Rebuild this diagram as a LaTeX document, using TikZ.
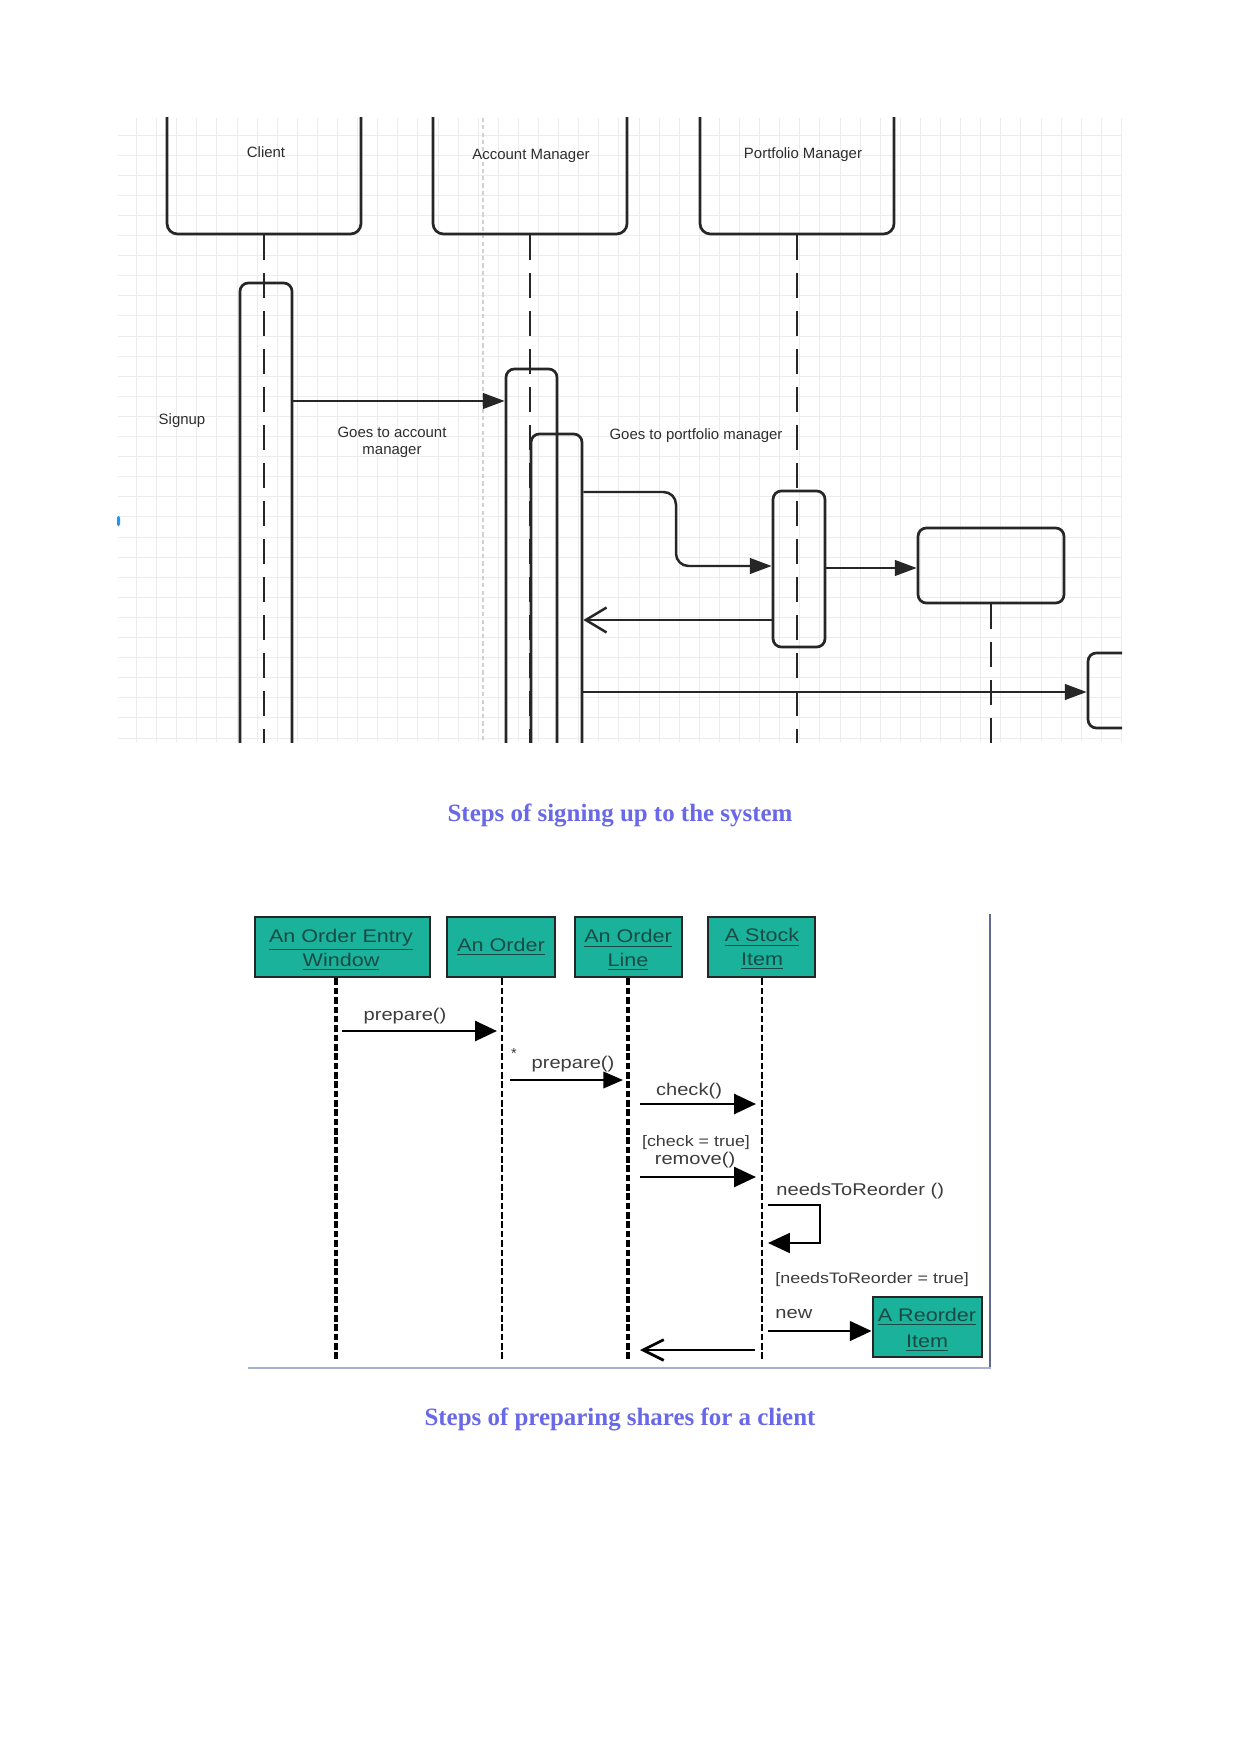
\documentclass[tikz,border=0pt]{standalone}
\usepackage{fontspec}
\setmainfont{Liberation Serif}
\newfontfamily\arialf{Liberation Sans}
\newfontfamily\arialw[FakeStretch=1.18]{Liberation Sans}
\usetikzlibrary{arrows.meta,fit}
\definecolor{captc}{RGB}{104,104,232}
\definecolor{gridc}{RGB}{236,236,236}
\definecolor{txtc}{RGB}{45,45,45}
\definecolor{txtb}{RGB}{60,60,60}
\definecolor{tealc}{RGB}{26,178,154}
\definecolor{tealtxt}{RGB}{25,75,70}
\definecolor{framer}{RGB}{95,105,145}
\definecolor{frameb}{RGB}{165,175,210}
\definecolor{markc}{RGB}{30,150,240}
\begin{document}
\begin{tikzpicture}[x=0.016922cm,y=-0.016922cm,
  hdr/.style={draw=black!85,line width=1.3pt,rounded corners=5pt,inner sep=0pt},
  actbox/.style={draw=black!85,line width=1.3pt,rounded corners=4pt,inner sep=0pt},
  lifeA/.style={draw=black!85,line width=1.2pt,dash pattern=on 12pt off 6.3pt},
  msgA/.style={draw=black!85,line width=1.2pt,-{Triangle[length=10.5pt,width=7.5pt]}},
  retA/.style={draw=black!85,line width=1.2pt,-{Straight Barb[length=10pt,width=12pt]}},
  lblA/.style={font=\arialf\fontsize{7.2}{8.7}\selectfont,text=txtc,inner sep=0pt,anchor=base},
  obox/.style={draw=black!85,fill=tealc,line width=1.4pt,inner sep=0pt,align=center,
    font=\arialw\fontsize{8.8}{11.2}\selectfont,text=tealtxt},
  lifeBthick/.style={draw=black,line width=2pt,dash pattern=on 3.2pt off 1.3pt},
  lifeBmid/.style={draw=black,line width=1.4pt,dash pattern=on 3.2pt off 1.3pt},
  lifeBthin/.style={draw=black,line width=0.9pt,dash pattern=on 3.2pt off 1.3pt},
  msgB/.style={draw=black,line width=1.4pt,-{Triangle[length=10.5pt,width=9.5pt]}},
  msgBthin/.style={draw=black,line width=0.9pt,-{Triangle[length=9.5pt,width=8pt]}},
  retB/.style={draw=black,line width=1.3pt,-{Straight Barb[length=10pt,width=10pt]}},
  lblB/.style={font=\arialw\fontsize{8.2}{10}\selectfont,text=txtb,inner sep=0pt,anchor=base},
  lblBs/.style={font=\arialw\fontsize{7.3}{9}\selectfont,text=txtb,inner sep=0pt,anchor=base},
  captionstyle/.style={font=\bfseries\fontsize{12}{14}\selectfont,text=captc,inner sep=0pt,anchor=base}
]
\useasboundingbox (0,0) rectangle (1241,1754);
\fill[white] (0,0) rectangle (1241,1754);

% ---------------- top diagram ----------------
\foreach \i in {0,...,49} {\draw[gridc,line width=0.45pt] ({136.5+20.1*\i},118) -- ({136.5+20.1*\i},742);}
\foreach \j in {0,...,30} {\draw[gridc,line width=0.45pt] (118,{135+20.1*\j}) -- (1122,{135+20.1*\j});}
\draw[black!18,line width=0.6pt,dash pattern=on 2pt off 1.5pt] (483,118) -- (483,742);
\fill[markc,rounded corners=1pt] (117,516) rectangle (120,526);

\begin{scope}
\clip (118,118) rectangle (1122,742);
\node[hdr,fit={(167,60) (361,234)}] (client) {};
\node[hdr,fit={(433,60) (627,234)}] (accm) {};
\node[hdr,fit={(700,60) (894,234)}] (portm) {};
\node[actbox,fit={(240,283) (292,800)}] (cact) {};
\node[actbox,fit={(506,369) (557,800)}] (aact1) {};
\node[actbox,fit={(531,434) (582,800)}] (aact2) {};
\node[actbox,fit={(773,491) (825,647)}] (pact) {};
\node[actbox,fit={(918,528) (1064,603)}] (rbox) {};
\node[actbox,fit={(1088,653) (1180,728)}] (fbox) {};
\coordinate (cl) at (264,760);
\coordinate (al) at (530,760);
\coordinate (pl) at (797,760);
\coordinate (rl) at (991,760);
\draw[lifeA] (client.south -| cl) -- (cl);
\draw[lifeA] (accm.south -| al) -- (al);
\draw[lifeA] (portm.south -| pl) -- (pl);
\draw[lifeA] (rbox.south -| rl) -- (rl);
\end{scope}

\node[lblA] (tclient) at (266,158) {Client};
\node[lblA] (tacc) at (531,160) {Account Manager};
\node[lblA] (tport) at (803,159) {Portfolio Manager};
\node[lblA] (tsign) at (182,425) {Signup};
\node[lblA] (tgoacc1) at (392,438) {Goes to account};
\node[lblA] (tgoacc2) at (392,455) {manager};
\node[lblA] (tgoport) at (696,440) {Goes to portfolio manager};

\coordinate (ya) at (0,401);
\coordinate (yb) at (0,492);
\coordinate (yc) at (0,566);
\coordinate (yd) at (0,620);
\coordinate (ye) at (0,568);
\coordinate (yf) at (0,692);
\draw[msgA] (cact.east |- ya) -- (aact1.west |- ya);
\draw[msgA,rounded corners=6pt] (aact2.east |- yb) -- (676,492) -- (676,566) -- (pact.west |- yc);
\draw[retA] (pact.west |- yd) -- (aact2.east |- yd);
\draw[msgA] (pact.east |- ye) -- (rbox.west |- ye);
\draw[msgA] (aact2.east |- yf) -- (fbox.west |- yf);

\node[captionstyle] (cap1) at (620,821) {Steps of signing up to the system};

% ---------------- bottom diagram ----------------
\draw[framer,line width=1.2pt] (990,914) -- (990,1368);
\draw[frameb,line width=1pt] (248,1368) -- (991,1368);

\node[obox,fit={(255,917) (430,977)}] (b1) {};
\node[obox,fit={(447,917) (555,977)}] (b2) {};
\node[obox,fit={(575,917) (682,977)}] (b3) {};
\node[obox,fit={(708,917) (815,977)}] (b4) {};
\node[obox,fit={(873,1297) (982,1357)}] (b5) {};
\node[obox,draw=none,fill=none] (t1) at (341,950) {\underline{An Order Entry}\\\underline{Window}};
\node[obox,draw=none,fill=none] (t2) at (501,947) {\underline{An Order}};
\node[obox,draw=none,fill=none] (t3) at (628,950) {\underline{An Order}\\\underline{Line}};
\node[obox,draw=none,fill=none] (t4) at (762,949) {\underline{A Stock}\\\underline{Item}};
\node[obox,draw=none,fill=none,font=\arialw\fontsize{8.8}{12.3}\selectfont] (t5) at (927,1330) {\underline{A Reorder}\\\underline{Item}};

\coordinate (l1) at (336,1360);
\coordinate (l2) at (502,1360);
\coordinate (l3) at (628,1360);
\coordinate (l4) at (762,1360);
\draw[lifeBthick] (b1.south -| l1) -- (l1);
\draw[lifeBthin] (b2.south -| l2) -- (l2);
\draw[lifeBthick] (b3.south -| l3) -- (l3);
\draw[lifeBmid] (b4.south -| l4) -- (l4);

\coordinate (p1s) at (342,1031); \coordinate (p1e) at (497,1031);
\coordinate (p2s) at (510,1080); \coordinate (p2e) at (623,1080);
\coordinate (cks) at (640,1104); \coordinate (cke) at (756,1104);
\coordinate (rms) at (640,1177); \coordinate (rme) at (756,1177);
\coordinate (nrs) at (768,1205); \coordinate (nre) at (768,1243);
\coordinate (nws) at (768,1331);
\coordinate (rts) at (755,1350); \coordinate (rte) at (640,1350);

\draw[msgB] (p1s) -- (p1e);
\draw[msgBthin] (p2s) -- (p2e);
\draw[msgB] (cks) -- (cke);
\draw[msgB] (rms) -- (rme);
\draw[msgB,line width=1.2pt] (nrs) -- (820,1205) -- (820,1243) -- (nre);
\draw[msgB,line width=1.2pt] (nws) -- (b5.west |- nws);
\draw[retB] (rts) -- (rte);

\node[lblB] (lp1) at (405,1020) {prepare()};
\node[lblB,font=\arialf\fontsize{7}{8}\selectfont] (lstar) at (514,1058) {*};
\node[lblB] (lp2) at (573,1068) {prepare()};
\node[lblB] (lck) at (689,1095) {check()};
\node[lblBs] (lg1) at (696,1146) {[check = true]};
\node[lblB] (lrm) at (695,1164) {remove()};
\node[lblB,anchor=base west] (lnr) at (776,1195) {needsToReorder ()};
\node[lblBs,anchor=base west] (lg2) at (775,1283) {[needsToReorder = true]};
\node[lblB,anchor=base west] (lnew) at (775,1318) {new};

\node[captionstyle] (cap2) at (620,1425) {Steps of preparing shares for a client};
\end{tikzpicture}
\end{document}
